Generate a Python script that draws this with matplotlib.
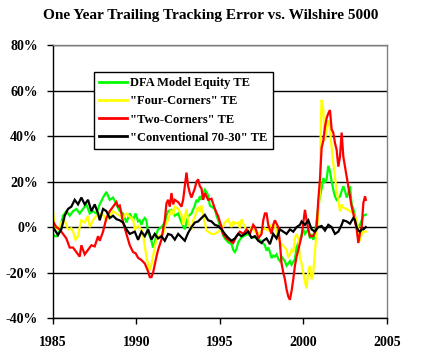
import matplotlib
matplotlib.use("Agg")
import matplotlib.pyplot as plt
from matplotlib.ticker import FuncFormatter

# one year trailing tracking error (%)
dfa_years = [1985.0, 1985.1, 1985.25, 1985.4, 1985.6, 1985.8, 1986.0, 1986.2, 1986.4, 1986.6, 1986.8,
             1987.0, 1987.2, 1987.4, 1987.6, 1987.8, 1988.0, 1988.2, 1988.4, 1988.6, 1988.8,
             1989.0, 1989.2, 1989.4, 1989.6, 1989.8, 1989.95, 1990.1, 1990.2, 1990.3, 1990.4,
             1990.5, 1990.6, 1990.7, 1990.8, 1990.9, 1991.0, 1991.1, 1991.2, 1991.3, 1991.5,
             1991.7, 1991.8, 1991.9, 1992.1, 1992.3, 1992.5, 1992.7, 1992.9, 1993.0, 1993.1,
             1993.3, 1993.5, 1993.6, 1993.7, 1993.8, 1993.9, 1994.0, 1994.1, 1994.3, 1994.4,
             1994.5, 1994.7, 1994.8, 1994.9, 1995.1, 1995.2, 1995.3, 1995.5, 1995.7, 1995.8,
             1995.9, 1996.0, 1996.1, 1996.3, 1996.5, 1996.7, 1996.9, 1997.1, 1997.3, 1997.5,
             1997.7, 1997.8, 1997.9, 1998.0, 1998.1, 1998.2, 1998.3, 1998.4, 1998.5, 1998.6,
             1998.7, 1998.9, 1999.0, 1999.2, 1999.3, 1999.5, 1999.6, 1999.7, 1999.8, 2000.0,
             2000.1, 2000.3, 2000.4, 2000.5, 2000.6, 2000.7, 2000.8, 2000.9, 2001.0, 2001.1,
             2001.2, 2001.3, 2001.4, 2001.5, 2001.6, 2001.7, 2001.8, 2001.9, 2002.0, 2002.2,
             2002.4, 2002.5, 2002.6, 2002.7, 2002.8, 2002.9, 2003.0, 2003.1, 2003.2, 2003.3,
             2003.4, 2003.5, 2003.6, 2003.75]
dfa_te = [-3, -4, -4, -1, 5, 7, 5, 7, 8, 6, 8,
          10, 6, 7, 6, 10, 13, 15.5, 12, 13, 10,
          7, 6, 2, 6, 3, 6, 2.5, 3, 1, 3,
          4, 3, -2.6, -4, -6, -9, -7, -3, -1, 0,
          2, 5, 7, 7.6, 5, 6, 2, -1, 2, 4.7,
          6, 9.5, 12, 11, 13.6, 12, 15, 16.5, 14, 9.5,
          9, 8, 5, 3, -1.6, -3.7, -5, -6.7, -7.5, -10,
          -11, -9.5, -6.7, -4.5, -3.7, -3, -4.5, -4.5, -5, -6.5,
          -8, -10.4, -9, -11, -13.6, -12.5, -13, -12, -14, -15,
          -13, -15, -17, -15, -16.6, -14, -9, -7, -5.6, -1,
          -3, -1, -5, -3, -5.6, -3, 3, 9, 13.5, 17,
          21.6, 19.5, 21, 27, 24.6, 20, 16.4, 13.5, 12, 13.5,
          18, 16, 13, 15, 18, 10, 8, 5, 2, 0,
          1, 3, 5, 5.5]

four_years = [1985.0, 1985.1, 1985.3, 1985.5, 1985.7, 1985.9, 1986.1, 1986.2, 1986.35, 1986.5, 1986.6,
              1986.7, 1986.9, 1987.1, 1987.2, 1987.4, 1987.6, 1987.8, 1988.0, 1988.2, 1988.4,
              1988.6, 1988.8, 1989.0, 1989.2, 1989.4, 1989.6, 1989.8, 1989.9, 1990.1, 1990.3,
              1990.4, 1990.5, 1990.6, 1990.7, 1990.8, 1990.9, 1991.0, 1991.1, 1991.2, 1991.4,
              1991.6, 1991.7, 1991.8, 1991.9, 1992.0, 1992.1, 1992.2, 1992.3, 1992.5, 1992.7,
              1992.8, 1992.9, 1993.0, 1993.1, 1993.2, 1993.3, 1993.4, 1993.5, 1993.7, 1993.8,
              1993.9, 1994.0, 1994.1, 1994.2, 1994.3, 1994.5, 1994.7, 1994.9, 1995.1, 1995.3,
              1995.5, 1995.7, 1995.8, 1995.9, 1996.1, 1996.2, 1996.3, 1996.5, 1996.7, 1996.9,
              1997.1, 1997.3, 1997.5, 1997.7, 1997.9, 1998.1, 1998.3, 1998.5, 1998.7, 1998.9,
              1999.0, 1999.1, 1999.2, 1999.3, 1999.4, 1999.5, 1999.6, 1999.7, 1999.8, 1999.9,
              2000.0, 2000.1, 2000.2, 2000.3, 2000.4, 2000.5, 2000.6, 2000.7, 2000.8, 2000.9,
              2001.0, 2001.05, 2001.1, 2001.2, 2001.25, 2001.3, 2001.4, 2001.5, 2001.6, 2001.7,
              2001.8, 2001.9, 2002.0, 2002.1, 2002.2, 2002.3, 2002.4, 2002.6, 2002.8, 2003.0,
              2003.2, 2003.3, 2003.4, 2003.5, 2003.6, 2003.75]
four_te = [7, 0, -1, 2, 3, -1, -0.5, -2, -5.5, -4, 0,
           3, 2, 5, 0, 3, 5, 6, 5.5, 3, 5,
           7, 6, 5, 4, 6, 4.5, 3.5, -1, 0.5, -1,
           -3.5, -8.5, -13, -16.5, -19, -16.5, -12.8, -8.5, -6, -3.5,
           -3, 0, 2, 3, 6, 7.6, 5.4, 9, 8, 5.4,
           1, 4.5, 8, 3, 0, -1, 3, 4.5, 9, 6.6,
           9.5, 5, 2, -1.5, -2, -3, -3, -2, -1, 2,
           3.4, 0, 2.5, 1.5, 2, -0.5, 3.4, 0, -2, 0,
           -2, -3, -1.5, -0.5, -1.5, 1, 0.5, -5, -7.5, -9,
           -10, -13.5, -12, -10, -11, -5, -3, -5, -13.6, -16,
           -20, -24, -27, -19, -17, -23, -20, -10.7, -3, 6,
           16, 46, 56, 52, 43, 38, 44, 47, 43, 35,
           28, 22, 16, 12, 7, 10, 8.5, 8, 7, 6,
           3, -1, -6, -3, -2, -2]

two_years = [1985.0, 1985.2, 1985.4, 1985.6, 1985.8, 1986.0, 1986.2, 1986.4, 1986.6, 1986.7, 1986.9,
             1987.1, 1987.3, 1987.5, 1987.7, 1987.8, 1988.0, 1988.2, 1988.4, 1988.6, 1988.8,
             1988.9, 1989.0, 1989.1, 1989.2, 1989.4, 1989.6, 1989.8, 1989.95, 1990.1, 1990.3,
             1990.5, 1990.7, 1990.8, 1990.9, 1991.0, 1991.1, 1991.2, 1991.3, 1991.5, 1991.6,
             1991.7, 1991.8, 1991.9, 1992.0, 1992.1, 1992.2, 1992.3, 1992.5, 1992.7, 1992.8,
             1992.9, 1993.0, 1993.1, 1993.2, 1993.3, 1993.4, 1993.5, 1993.6, 1993.7, 1993.8,
             1993.9, 1994.0, 1994.1, 1994.3, 1994.5, 1994.7, 1994.9, 1995.1, 1995.2, 1995.4,
             1995.6, 1995.8, 1996.0, 1996.2, 1996.4, 1996.6, 1996.8, 1997.0, 1997.1, 1997.2,
             1997.3, 1997.5, 1997.6, 1997.7, 1997.8, 1997.9, 1998.0, 1998.1, 1998.2, 1998.3,
             1998.5, 1998.6, 1998.7, 1998.8, 1998.9, 1999.0, 1999.1, 1999.2, 1999.3, 1999.4,
             1999.5, 1999.6, 1999.7, 1999.8, 1999.9, 2000.0, 2000.1, 2000.2, 2000.3, 2000.4,
             2000.6, 2000.8, 2000.9, 2001.0, 2001.1, 2001.2, 2001.3, 2001.4, 2001.5, 2001.6,
             2001.7, 2001.8, 2001.9, 2002.0, 2002.1, 2002.2, 2002.3, 2002.4, 2002.5, 2002.6,
             2002.7, 2002.8, 2002.9, 2003.0, 2003.2, 2003.3, 2003.4, 2003.5, 2003.6, 2003.7,
             2003.75]
two_te = [2.5, 0, -1, -3, -5, -9, -9, -11, -13, -8, -12,
          -10, -8, -8.5, -4, -6, -2, 4, 7, 9, 11,
          9, 9.5, 6, 2, -3, -8, -11, -11.5, -13.5, -14.5,
          -16, -19.5, -22, -22, -20, -16.5, -13, -10, -5.5, -1,
          3, 10.5, 12, 9, 15, 10, 12, 11, 9, 12,
          18, 24, 18, 15, 13, 15, 17, 20, 21, 18,
          17, 12, 15, 12, 12.5, 8, 4.7, 0, -3, -5,
          -6, -7, -4, -2, -3, -1, -3, 1, 0, -2,
          -5, -3, 3, 6, 6, 1, -1, -3, 1, 3,
          0, -7, -16, -20, -23, -27.5, -30.5, -32, -28, -23,
          -17, -13, -10, -7, -4, 2, 7.6, 3, -1, -4,
          -4, 0, 12, 21, 35, 38, 44, 48, 50, 51.5,
          43, 41.5, 37, 34, 26.6, 31, 41.6, 31, 26.6, 22,
          18, 13.5, 9, 6, -1, -7, -2.5, 0, 10.6, 13.5,
          12]

conv_years = [1985.0, 1985.3, 1985.5, 1985.7, 1985.9, 1986.1, 1986.3, 1986.5, 1986.7, 1986.9, 1987.1,
              1987.3, 1987.5, 1987.7, 1987.8, 1988.0, 1988.2, 1988.4, 1988.6, 1988.8, 1989.0,
              1989.2, 1989.4, 1989.6, 1989.9, 1990.1, 1990.3, 1990.5, 1990.7, 1990.9, 1991.1,
              1991.3, 1991.5, 1991.7, 1991.9, 1992.1, 1992.3, 1992.5, 1992.7, 1992.9, 1993.1,
              1993.3, 1993.5, 1993.7, 1993.9, 1994.1, 1994.3, 1994.5, 1994.7, 1994.9, 1995.1,
              1995.3, 1995.5, 1995.7, 1995.9, 1996.1, 1996.3, 1996.5, 1996.7, 1996.9, 1997.1,
              1997.3, 1997.5, 1997.6, 1997.8, 1998.0, 1998.2, 1998.4, 1998.6, 1998.8, 1999.0,
              1999.2, 1999.4, 1999.6, 1999.8, 1999.9, 2000.1, 2000.3, 2000.5, 2000.7, 2000.9,
              2001.1, 2001.3, 2001.5, 2001.7, 2001.9, 2002.1, 2002.3, 2002.4, 2002.6, 2002.8,
              2003.0, 2003.1, 2003.2, 2003.3, 2003.4, 2003.5, 2003.6, 2003.75]
conv_te = [0, -3.5, -1, 5, 8, 9, 12, 10, 13, 10, 12,
           7, 10, 6, 3, 8, 7, 4, 5, 3.5, 3,
           2, -1, -3, -2, -5.6, -2, -4, -1, -5.5, -3,
           -5, -4, -6, -3, -3.5, -5.5, -3, -4.5, -6, -2.5,
           0, 2, 2.5, 4, 5.4, 3, 2.5, 1, 0.5, -1,
           -3, -4.7, -6, -5, -3, -4, -3, -2, -4.7, -4,
           -6, -7, -6, -5, -7.5, -3, -5, -1, -2, -3,
           -1, -2, 0, 1, 2.5, 1, 3, -1, -2, 0,
           0.5, -1.5, 1, 0, -3, -2, 1, 3, 2.5, 1.5,
           4, 3, 0, -1.5, -2, -1, -1, 0]

labels = ['DFA Model Equity TE', '"Four-Corners" TE', '"Two-Corners" TE', '"Conventional 70-30" TE']
colors = ['#00FF00', '#FFFF00', '#FF0000', '#000000']

plt.rcParams['font.family'] = ['Liberation Serif', 'DejaVu Serif']
plt.rcParams['font.weight'] = 'bold'

fig = plt.figure(figsize=(4.21, 3.55), dpi=100)
ax = fig.add_axes([53 / 421, 37 / 355, 333.7 / 421, 272.7 / 355])

series = [(dfa_years, dfa_te), (four_years, four_te), (two_years, two_te), (conv_years, conv_te)]
for (xs, ys), lab, col in zip(series, labels, colors):
    ax.plot(xs, ys, color=col, lw=1.6, label=lab, solid_joinstyle='miter')

ax.set_xlim(1985, 2005)
ax.set_ylim(-40, 80)
ax.set_xticks(range(1985, 2006, 5))
ax.set_yticks(range(-40, 81, 20))
ax.yaxis.set_major_formatter(FuncFormatter(lambda v, p: f"{v:.0f}%"))
ax.tick_params(direction='out', length=4, width=1, labelsize=10, colors='black')
ax.tick_params(axis='y', pad=7)
ax.tick_params(axis='x', pad=9)
for lbl in ax.get_xticklabels() + ax.get_yticklabels():
    lbl.set_fontweight('bold')

ax.grid(axis='y', color='black', lw=1)
ax.set_axisbelow(True)
for side in ['left', 'bottom']:
    ax.spines[side].set_color('black')
    ax.spines[side].set_linewidth(1)
for side in ['top', 'right']:
    ax.spines[side].set_color('#808080')
    ax.spines[side].set_linewidth(1)

leg = ax.legend(loc='upper left', bbox_to_anchor=(0.123, 0.902), fontsize=9,
                frameon=True, fancybox=False, edgecolor='black', framealpha=1,
                handlelength=2.2, handletextpad=0.3, labelspacing=0.5, borderpad=0.4,
                borderaxespad=0)
leg.get_frame().set_linewidth(1)
for t in leg.get_texts():
    t.set_fontweight('bold')
for h in leg.get_lines():
    h.set_linewidth(2)

fig.text(0.5, 1 - 15 / 355, 'One Year Trailing Tracking Error vs. Wilshire 5000',
         ha='center', va='center', fontsize=11, fontweight='bold')

fig.savefig('out.png', dpi=100, facecolor='white')
